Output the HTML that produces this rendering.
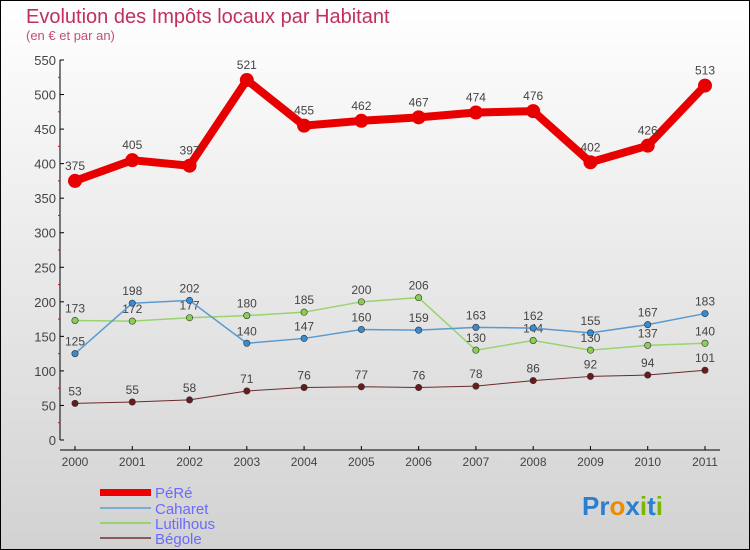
<!DOCTYPE html>
<html><head><meta charset="utf-8"><style>
body{margin:0;width:750px;height:550px;overflow:hidden}
svg{display:block;font-family:"Liberation Sans",sans-serif}
</style></head><body>
<svg id="c" width="750" height="550">
<defs><linearGradient id="bg" x1="0" y1="0" x2="0" y2="1"><stop offset="0" stop-color="#ffffff"/><stop offset="1" stop-color="#d2d2d2"/></linearGradient></defs>
<rect x="0.5" y="0.5" width="749" height="549" fill="url(#bg)" stroke="#000"/>
<text x="26" y="23" font-size="20" fill="#c0305a">Evolution des Impôts locaux par Habitant</text>
<text x="26" y="40" font-size="13" fill="#c0507a">(en € et par an)</text>
<g id="axes"></g><g id="series"></g>
<g>
<rect x="100" y="489" width="51" height="7" fill="#e00"/>
<text x="155" y="498" font-size="15" fill="#6a6aff">PéRé</text>
<line x1="100" y1="508" x2="151" y2="508" stroke="#7aaed0" stroke-width="2"/>
<text x="155" y="514" font-size="15" fill="#6a6aff">Caharet</text>
<line x1="100" y1="523" x2="151" y2="523" stroke="#99d36e" stroke-width="2"/>
<text x="155" y="529" font-size="15" fill="#6a6aff">Lutilhous</text>
<line x1="100" y1="538" x2="151" y2="538" stroke="#8a5a5a" stroke-width="2"/>
<text x="155" y="544" font-size="15" fill="#6a6aff">Bégole</text>
</g>
<g font-size="26" font-weight="bold">
<text x="582" y="515"><tspan fill="#2a7fd0">Pr</tspan><tspan fill="#f08a00">o</tspan><tspan fill="#2a7fd0">x</tspan><tspan fill="#7ab800">i</tspan><tspan fill="#2a7fd0">t</tspan><tspan fill="#7ab800">i</tspan></text>
</g>
</svg>
<script>
const years=[2000,2001,2002,2003,2004,2005,2006,2007,2008,2009,2010,2011];
const yTicks=[0,50,100,150,200,250,300,350,400,450,500,550];
const pere=[375,405,397,521,455,462,467,474,476,402,426,513];
const caharet=[125,198,202,140,147,160,159,163,162,155,167,183];
const lutilhous=[173,172,177,180,185,200,206,130,144,130,137,140];
const begole=[53,55,58,71,76,77,76,78,86,92,94,101];
const NS="http://www.w3.org/2000/svg";
const X=i=>75+i*(630/11);
const Y=v=>440-v*(380/550);
function mk(t,a,p){const e=document.createElementNS(NS,t);for(const k in a)e.setAttribute(k,a[k]);p.appendChild(e);return e;}
const ax=document.getElementById('axes');
const yl=mk('line',{x1:60,y1:Y(550),x2:60,y2:440,stroke:'#000'},ax);


const xl=mk('line',{x1:60,y1:450,x2:720,y2:450,stroke:'#000'},ax);


yTicks.forEach(v=>{
 mk('line',{x1:60,y1:Y(v),x2:64,y2:Y(v),stroke:'#000'},ax);
 const t=mk('text',{x:56,y:Y(v)+5,'text-anchor':'end','font-size':13,fill:'#444'},ax);
 t.textContent=v;
 
 
 if(v<550)mk('line',{x1:58,y1:Y(v+25),x2:60,y2:Y(v+25),stroke:'#e00'},ax);
});
years.forEach((yr,i)=>{
 mk('line',{x1:X(i),y1:446,x2:X(i),y2:450,stroke:'#000'},ax);
 const t=mk('text',{x:X(i),y:466,'text-anchor':'middle','font-size':12,fill:'#444'},ax);
 t.textContent=yr;
 
 
});
const sg=document.getElementById('series');
function series(name,data,col,dot,w,r,labelUp){
 const g=mk('g',{},sg);
 
 
 const pl=mk('polyline',{points:data.map((v,i)=>X(i)+','+Y(v)).join(' '),fill:'none',stroke:col,'stroke-width':w,'stroke-linejoin':'round'},g);
 
 
 data.forEach((v,i)=>{
  const c=mk('circle',{cx:X(i),cy:Y(v),r:r,fill:dot,stroke:'#333','stroke-width':r>4?0:0.6},g);
  
  
  const t=mk('text',{x:X(i),y:Y(v)-(r>4?11:8),'text-anchor':'middle','font-size':12,fill:'#444'},g);
  t.textContent=v;
  
  
 });
}
series('begole',begole,'#6a2a2a','#6a1a1a',1,3.2);
series('lutilhous',lutilhous,'#99d36e','#88d050',1.5,3.2);
series('caharet',caharet,'#5a9ad0','#3a8ad0',1.5,3.2);
series('pere',pere,'#e80000','#e80000',8,7);
</script>
</body></html>
